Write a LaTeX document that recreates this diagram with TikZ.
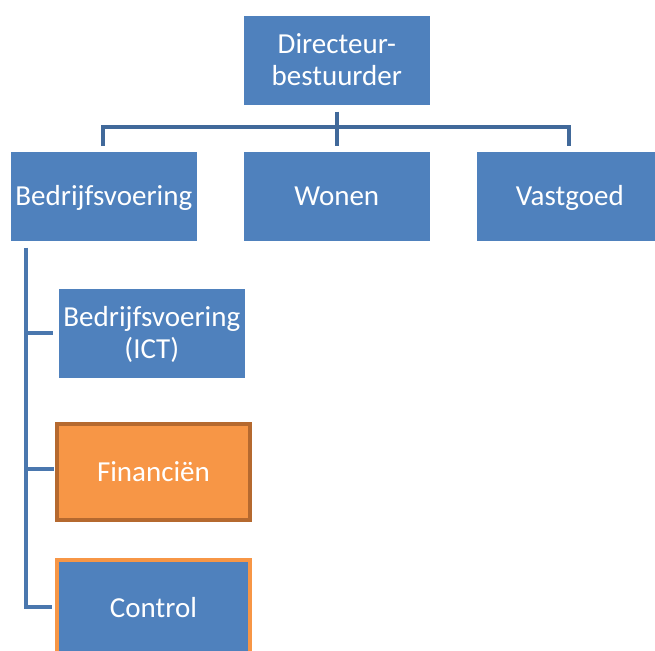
\documentclass[tikz,border=0pt]{standalone}
\usepackage{fontspec}
\setmainfont{Carlito}
\definecolor{boxblue}{HTML}{4F81BD}
\definecolor{lineblue}{HTML}{41699A}
\definecolor{lineblue2}{HTML}{4A77AE}
\definecolor{orfill}{HTML}{F79646}
\definecolor{orborder}{HTML}{B5692F}
\newcommand{\mystrut}{\rule[-9.6pt]{0pt}{38pt}}
\newcommand{\topstrut}{\rule{0pt}{28.4pt}}
\begin{document}
\begin{tikzpicture}[x=1pt,y=-1pt,
  box/.style={fill=boxblue,draw=white,line width=0.6pt,minimum width=187pt,minimum height=90pt,
    text=white,font=\fontsize{29}{32}\selectfont,align=center,inner sep=0pt,anchor=north west,
    execute at begin node=\mystrut,execute at end node=\mystrut},
  conn/.style={draw=lineblue,line width=4.5pt,line cap=butt,line join=miter},
  conn2/.style={draw=lineblue2,line width=4.5pt,line cap=butt,line join=miter}]
\useasboundingbox (0,0) rectangle (655,650);
\node[box] (top) at (243,15) {\topstrut Directeur-\\bestuurder};
\node[box] (bv) at (10,151) {Bedrijfsvoering};
\node[box] (wo) at (243,151) {Wonen};
\node[box] (va) at (476,151) {Vastgoed};
\node[box] (ict) at (58,288) {\topstrut Bedrijfsvoering\\(ICT)};
\node[box,fill=orfill,draw=orborder,line width=4pt,minimum width=193pt,minimum height=96pt] (fin) at (55,422) {Financiën};
\node[box,draw=orfill,line width=4pt,minimum width=193pt,minimum height=96pt] (con) at (55,558) {Control};
\coordinate (hub) at (top.south |- 0,127);
\draw[conn,shorten <=6pt] (top.south) -- (hub);
\draw[conn,shorten <=5pt,shorten >=5pt] (bv.north -| 103,0) -- (103,127) -- (569,127) -- (va.north -| 569,0);
\draw[conn,shorten >=5pt] (hub) -- (wo.north);
\draw[conn2,shorten <=6pt,shorten >=3pt] (bv.south -| 26,0) -- (26,607) -- (con.west |- 0,607);
\draw[conn2,shorten >=5pt] (26,333) -- (ict.west |- 0,333);
\draw[conn2,shorten >=1pt] (26,469) -- (fin.west |- 0,469);
\end{tikzpicture}
\end{document}
